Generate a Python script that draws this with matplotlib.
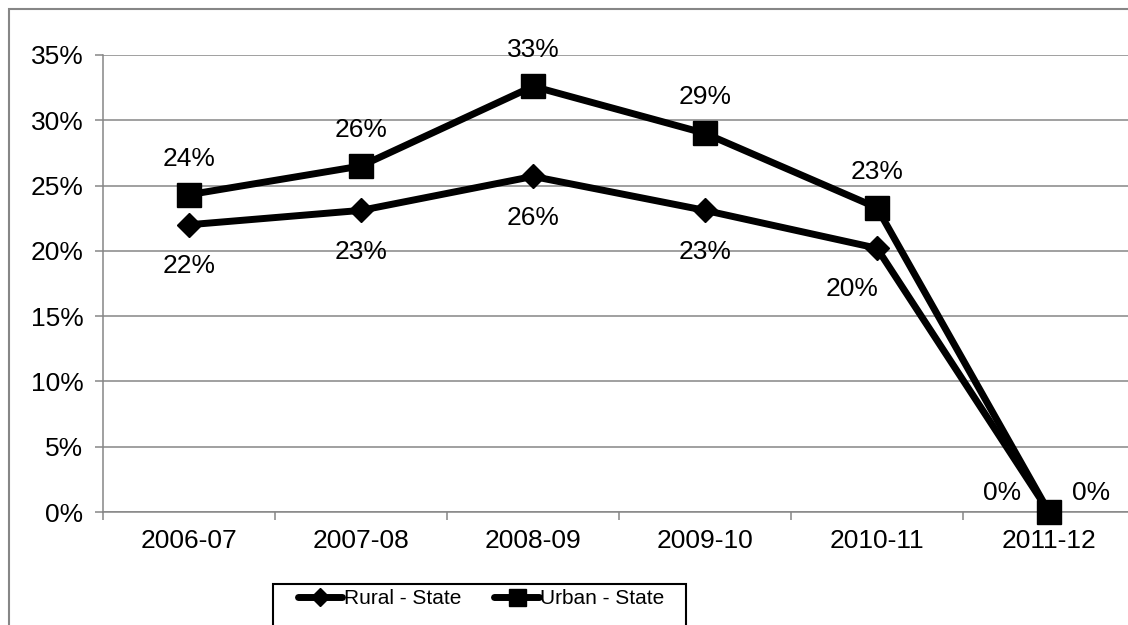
import matplotlib
matplotlib.use("Agg")
import matplotlib.pyplot as plt
from matplotlib.patches import Rectangle
from matplotlib.ticker import FixedLocator, PercentFormatter

plt.rcParams['font.family'] = ['Liberation Sans', 'DejaVu Sans']

# School years and the share for each series
years = ['2006-07', '2007-08', '2008-09', '2009-10', '2010-11', '2011-12']
rural = [22.0, 23.1, 25.7, 23.1, 20.2, 0.0]
urban = [24.3, 26.5, 32.6, 29.0, 23.3, 0.0]

W, H = 1128, 625
fig = plt.figure(figsize=(W / 100, H / 100), dpi=100)

def px(x0, y0, x1, y1):
    # pixel box (top-left origin) -> figure fraction [l, b, w, h]
    return [x0 / W, 1 - y1 / H, (x1 - x0) / W, (y1 - y0) / H]

# outer chart border
l, b, w, h = px(9, 9, 1160, 660)
fig.patches.append(Rectangle((l, b), w, h, transform=fig.transFigure,
                             fill=False, edgecolor='#868686', linewidth=1.5))

ax = fig.add_axes(px(103, 55, 1135, 512))
x = list(range(len(years)))

grid_c = '#868686'
fs = 19
ax.set_xlim(-0.5, len(years) - 0.5)
ax.set_ylim(0, 35)
ax.yaxis.set_major_locator(FixedLocator(range(0, 36, 5)))
ax.yaxis.set_major_formatter(PercentFormatter(decimals=0))
ax.yaxis.grid(True, color=grid_c, linewidth=1.1)
ax.set_axisbelow(True)

ax.set_xticks(x)
ax.set_xticklabels(years)
ax.set_xticks([i - 0.5 for i in range(len(years) + 1)], minor=True)
ax.tick_params(axis='x', which='major', length=0, pad=12, labelsize=fs)
ax.tick_params(axis='x', which='minor', length=6, width=1.1, color=grid_c)
ax.tick_params(axis='y', length=6, width=1.1, color=grid_c, pad=8, labelsize=fs)

for side in ['top', 'right']:
    ax.spines[side].set_visible(False)
for side in ['left', 'bottom']:
    ax.spines[side].set_color(grid_c)
    ax.spines[side].set_linewidth(1.1)

ax.plot(x, rural, color='black', linewidth=5, marker='D', markersize=12.5,
        label='Rural - State', clip_on=False, zorder=3)
ax.plot(x, urban, color='black', linewidth=5, marker='s', markersize=17,
        label='Urban - State', clip_on=False, zorder=4)

# value labels: urban above, rural below
for i, v in enumerate(urban):
    off = (0, 26)
    if v == 0:
        off = (30, 14)
    ax.annotate(f'{v:.0f}%', (i, v), xytext=off, textcoords='offset points',
                ha='center', va='center', fontsize=fs)
for i, v in enumerate(rural):
    off = (0, -30)
    if i == 4:
        off = (-18, -29)
    if v == 0:
        off = (-34, 14)
    ax.annotate(f'{v:.0f}%', (i, v), xytext=off, textcoords='offset points',
                ha='center', va='center', fontsize=fs)

# legend frame runs off the bottom edge
l, b, w, h = px(273, 584, 686, 660)
fig.patches.append(Rectangle((l, b), w, h, transform=fig.transFigure,
                             fill=False, edgecolor='black', linewidth=1.5))
leg = fig.legend(loc='center', bbox_to_anchor=(481 / W, 1 - 599 / H), ncol=2,
                 frameon=False, fontsize=15, handlelength=2.15,
                 handletextpad=0.05, columnspacing=1.6, markerscale=0.72)
for ln in leg.get_lines():
    ln.set_solid_capstyle('round')

fig.savefig('out.png', dpi=100)
